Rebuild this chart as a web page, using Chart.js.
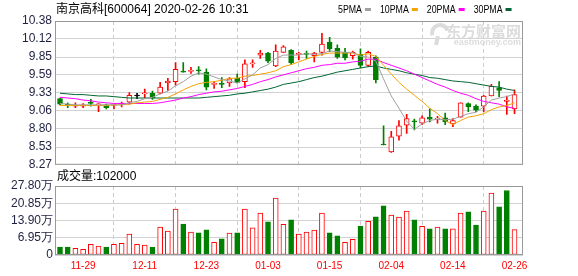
<!DOCTYPE html>
<html>
<head>
<meta charset="utf-8">
<script src="https://cdn.jsdelivr.net/npm/chart.js@4.4.0/dist/chart.umd.min.js"></script>
<style>
html, body { margin: 0; padding: 0; background: #fff; }
#wrap { position: relative; width: 578px; height: 276px; overflow: hidden; }
#price { position: absolute; left: 0; top: 0; }
#vol { position: absolute; left: 0; top: 165px; }
</style>
</head>
<body>
<div id="wrap">
  <canvas id="price" width="578" height="175" style="width:578px;height:175px"></canvas>
  <canvas id="vol" width="578" height="111" style="width:578px;height:111px"></canvas>
</div>
<script>
// trading days
const dates = ['11-26','11-27','11-28','11-29','12-02','12-03','12-04','12-05','12-06','12-09',
  '12-10','12-11','12-12','12-13','12-16','12-17','12-18','12-19','12-20','12-23',
  '12-24','12-25','12-26','12-27','12-30','12-31','01-02','01-03','01-06','01-07',
  '01-08','01-09','01-10','01-13','01-14','01-15','01-16','01-17','01-20','01-21',
  '01-22','01-23','02-03','02-04','02-05','02-06','02-07','02-10','02-11','02-12',
  '02-13','02-14','02-17','02-18','02-19','02-20','02-21','02-24','02-25','02-26'];
const shownDates = ['11-29','12-11','12-23','01-03','01-15','02-04','02-14','02-26'];

const openP = [9.24,9.16,9.13,9.13,9.19,9.15,9.15,9.14,9.16,9.19,
  9.28,9.31,9.32,9.32,9.47,9.49,9.64,9.64,9.66,9.63,
  9.45,9.46,9.47,9.54,9.49,9.75,9.88,9.91,9.72,9.92,
  9.95,9.89,9.90,9.87,9.92,10.07,9.98,9.92,9.87,9.89,
  9.73,9.85,8.57,8.46,8.69,8.85,8.91,8.88,8.97,8.94,
  8.96,8.87,8.97,9.17,9.13,9.13,9.28,9.40,9.20,9.09];
const highP = [9.25,9.18,9.18,9.17,9.23,9.17,9.16,9.16,9.19,9.33,
  9.32,9.38,9.35,9.48,9.54,9.77,9.77,9.70,9.71,9.68,
  9.49,9.55,9.55,9.60,9.81,9.81,9.95,9.92,10.03,10.02,
  9.96,9.92,9.94,9.92,10.20,10.14,10.03,9.98,9.94,9.97,
  9.94,9.87,8.84,8.76,8.92,9.01,8.94,8.99,9.09,8.98,
  9.03,8.95,9.18,9.18,9.15,9.29,9.45,9.49,9.28,9.37];
const lowP = [9.15,9.11,9.11,9.11,9.13,9.05,9.09,9.09,9.12,9.16,
  9.24,9.25,9.23,9.31,9.36,9.44,9.63,9.61,9.60,9.37,
  9.39,9.40,9.42,9.47,9.40,9.70,9.83,9.77,9.71,9.92,
  9.74,9.81,9.83,9.78,9.88,9.93,9.83,9.81,9.82,9.69,
  9.71,9.47,8.56,8.45,8.63,8.73,8.78,8.86,8.90,8.88,
  8.86,8.83,8.97,9.05,9.05,9.05,9.28,9.27,9.01,9.02];
const closeP = [9.16,9.14,9.14,9.15,9.17,9.16,9.11,9.15,9.17,9.29,
  9.28,9.32,9.25,9.41,9.50,9.67,9.63,9.65,9.65,9.41,
  9.46,9.45,9.53,9.48,9.75,9.76,9.91,9.79,9.94,10.00,
  9.77,9.90,9.89,9.91,10.04,9.97,9.85,9.84,9.92,9.73,
  9.92,9.52,8.56,8.68,8.84,8.95,8.90,8.96,8.94,8.95,
  8.90,8.92,9.18,9.12,9.07,9.28,9.42,9.36,9.22,9.30];

const ma5 = [9.17,9.16,9.15,9.15,9.15,9.15,9.15,9.15,9.15,9.18,
  9.20,9.24,9.26,9.31,9.35,9.43,9.49,9.57,9.62,9.60,
  9.56,9.52,9.50,9.47,9.53,9.59,9.69,9.74,9.83,9.88,
  9.88,9.88,9.90,9.89,9.90,9.94,9.93,9.92,9.92,9.86,
  9.85,9.79,9.53,9.28,9.10,8.91,8.79,8.87,8.92,8.94,
  8.93,8.94,8.98,9.02,9.04,9.12,9.22,9.25,9.27,9.31];
const ma10 = [9.14,9.14,9.14,9.14,9.14,9.14,9.14,9.15,9.15,9.16,
  9.18,9.19,9.20,9.23,9.26,9.31,9.37,9.42,9.46,9.48,
  9.49,9.51,9.54,9.54,9.57,9.58,9.60,9.62,9.65,9.71,
  9.74,9.78,9.82,9.86,9.89,9.91,9.91,9.91,9.91,9.88,
  9.90,9.86,9.73,9.60,9.48,9.38,9.29,9.20,9.10,9.02,
  8.92,8.86,8.92,8.97,8.99,9.02,9.08,9.12,9.14,9.18];
const ma20 = [9.26,9.25,9.24,9.22,9.21,9.19,9.18,9.17,9.17,9.17,
  9.17,9.17,9.17,9.18,9.20,9.22,9.25,9.27,9.30,9.32,
  9.34,9.35,9.37,9.39,9.42,9.45,9.49,9.52,9.56,9.59,
  9.62,9.65,9.68,9.70,9.73,9.74,9.76,9.76,9.78,9.79,
  9.82,9.82,9.77,9.73,9.69,9.65,9.60,9.55,9.50,9.45,
  9.41,9.36,9.32,9.29,9.24,9.20,9.18,9.16,9.12,9.10];
const ma30 = [9.32,9.31,9.30,9.30,9.29,9.28,9.28,9.27,9.26,9.25,
  9.25,9.25,9.25,9.25,9.25,9.25,9.25,9.25,9.25,9.26,
  9.27,9.28,9.29,9.31,9.32,9.34,9.36,9.38,9.41,9.45,
  9.47,9.49,9.52,9.55,9.57,9.60,9.63,9.65,9.67,9.69,
  9.71,9.72,9.69,9.67,9.65,9.62,9.60,9.58,9.55,9.54,
  9.52,9.50,9.49,9.48,9.46,9.44,9.42,9.41,9.38,9.36];

// volume in 万 shares, 1 = up day (red)
const vol = [3.24,3.24,2.7,2.3,4.3,3.6,3.24,4.3,4.7,8.4,
  4.3,4.0,3.24,11.2,9.6,18.5,12.5,9.2,8.9,10.1,
  5.1,6.5,8.8,8.9,18.5,10.9,16.9,13.4,22.9,12.4,
  14.2,8.4,9.2,10.0,16.9,8.9,7.7,5.1,6.3,11.7,
  13.6,15.4,19.8,16.1,15.3,17.7,14.2,11.6,10.5,11.2,
  10.5,10.5,16.9,17.4,12.1,17.7,24.9,19.4,26.0,10.2];
const volUp = [0,0,1,1,1,1,0,1,1,1, 1,1,0,1,1,1,0,1,0,0,
  1,0,1,0,1,1,1,0,1,1, 0,1,1,1,1,0,0,1,1,0,
  1,0,0,1,1,1,0,1,0,1, 0,1,1,0,0,1,1,0,0,1];

const priceTicks = [8.27, 8.53, 8.80, 9.06, 9.33, 9.59, 9.85, 10.12, 10.38];
const volTicks = [0, 6.95, 13.90, 20.85, 27.80];
const lastVol = '102000';

const RED = '#ff0000', GREEN = '#008000', BLACK = '#000000';
const maColors = ['#a0a0a0', '#f5a300', '#ff00ff', '#006633'];
const axisFont = { family: '"Liberation Sans", Arial, sans-serif', size: 12 };
const labelColor = '#1f2140';

const pts = arr => arr.map((v, i) => ({ x: i + 1, y: v }));
const tickIdx = shownDates.map(d => dates.indexOf(d) + 1);

const candleColor = closeP.map((c, i) => c > openP[i] ? RED : (c < openP[i] ? GREEN : BLACK));
const bodyFill = closeP.map((c, i) => c > openP[i] ? '#ffffff' : candleColor[i]);

function xScale(showLabels, h) {
  return {
    type: 'linear', min: 0.35, max: 61.1, offset: false,
    afterBuildTicks: s => { s.ticks = tickIdx.map(v => ({ value: v })); },
    afterFit: s => { s.height = h; },
    grid: { color: '#cccccc', drawTicks: false },
    border: { display: false, dash: [4, 3] },
    ticks: {
      display: showLabels, autoSkip: false, maxRotation: 0, padding: 5,
      color: RED, font: { family: '"Liberation Sans", Arial, sans-serif', size: 10 },
      callback: v => dates[v - 1]
    }
  };
}

function frame(chart) {
  const a = chart.chartArea, ctx = chart.ctx;
  ctx.save();
  ctx.strokeStyle = '#999999';
  ctx.lineWidth = 1;
  ctx.strokeRect(a.left + 0.5, a.top + 0.5, a.right - a.left - 1, a.bottom - a.top - 1);
  ctx.restore();
}

const priceDecor = {
  id: 'priceDecor',
  beforeDatasetsDraw(chart) {
    const ctx = chart.ctx, r = chart.chartArea.right;
    ctx.save();
    ctx.fillStyle = '#dcdcdc';
    ctx.textAlign = 'right';
    ctx.textBaseline = 'middle';
    ctx.font = 'bold 15px "Noto Sans CJK SC", sans-serif';
    ctx.fillText('东方财富网', r - 2, 31);
    ctx.font = 'bold 9px "Liberation Sans", Arial, sans-serif';
    ctx.fillText('eastmoney.com', r - 2, 43);
    ctx.strokeStyle = '#dcdcdc';
    ctx.lineWidth = 4;
    ctx.beginPath();
    ctx.arc(440, 33, 8, Math.PI * 0.9, Math.PI * 1.9);
    ctx.stroke();
    ctx.beginPath();
    ctx.moveTo(438, 36); ctx.lineTo(436, 45);
    ctx.stroke();
    ctx.restore();
  },
  afterDraw(chart) {
    const ctx = chart.ctx;
    frame(chart);
    ctx.save();
    ctx.fillStyle = '#000';
    ctx.textBaseline = 'middle';
    ctx.font = '12px "Liberation Sans", "Noto Sans CJK SC", sans-serif';
    ctx.fillText('南京高科[600064] 2020-02-26 10:31', 56, 10);
    // legend
    const names = ['5PMA', '10PMA', '20PMA', '30PMA'];
    let x = 338;
    ctx.font = '10px "Liberation Sans", Arial, sans-serif';
    names.forEach((n, i) => {
      const w = ctx.measureText(n).width * 0.88;
      ctx.save();
      ctx.translate(x, 10);
      ctx.scale(0.88, 1);
      ctx.fillStyle = '#000';
      ctx.fillText(n, 0, 0);
      ctx.restore();
      x += w + 3;
      ctx.fillStyle = maColors[i];
      ctx.fillRect(x, 8, 6, 3);
      x += 6 + 9;
    });
    ctx.restore();
  }
};

const volDecor = {
  id: 'volDecor',
  afterDraw(chart) {
    const ctx = chart.ctx;
    frame(chart);
    ctx.save();
    ctx.fillStyle = '#000';
    ctx.textBaseline = 'middle';
    ctx.font = '12px "Liberation Sans", "Noto Sans CJK SC", sans-serif';
    ctx.fillText('成交量:' + lastVol, 57, 12);
    ctx.restore();
  }
};

const lineDs = (label, arr, color) => ({
  type: 'line', label, data: pts(arr), borderColor: color, borderWidth: 1,
  pointRadius: 0, tension: 0, fill: false, order: 0
});

new Chart(document.getElementById('price'), {
  type: 'bar',
  data: {
    datasets: [
      lineDs('MA5', ma5, maColors[0]),
      lineDs('MA10', ma10, maColors[1]),
      lineDs('MA20', ma20, maColors[2]),
      lineDs('MA30', ma30, maColors[3]),
      {
        label: 'body', order: 1, grouped: false,
        data: openP.map((o, i) => ({ x: i + 1, y: [o, closeP[i]] })),
        backgroundColor: bodyFill, borderColor: candleColor,
        borderWidth: 1, borderSkipped: false, barThickness: 5, minBarLength: 1
      },
      {
        label: 'wick', order: 2, grouped: false,
        data: lowP.map((l, i) => ({ x: i + 1, y: [l, highP[i]] })),
        backgroundColor: candleColor, borderWidth: 0, barThickness: 1
      }
    ]
  },
  options: {
    responsive: false, animation: false, events: [],
    layout: { padding: { top: 21, right: 55, left: 0, bottom: 0 } },
    plugins: { legend: { display: false }, tooltip: { enabled: false } },
    scales: {
      x: xScale(false, 10),
      y: {
        min: 8.27, max: 10.38,
        afterBuildTicks: s => { s.ticks = priceTicks.map(v => ({ value: v })); },
        afterFit: s => { s.width = 55; },
        grid: { color: '#d2d2d2', drawTicks: false },
        border: { display: false },
        ticks: { autoSkip: false, padding: 3, color: labelColor, font: axisFont, callback: v => v.toFixed(2) }
      }
    }
  },
  plugins: [priceDecor]
});

new Chart(document.getElementById('vol'), {
  type: 'bar',
  data: {
    datasets: [{
      label: 'vol', grouped: false,
      data: pts(vol),
      backgroundColor: volUp.map(u => u ? '#ffffff' : GREEN),
      borderColor: volUp.map(u => u ? RED : GREEN),
      borderWidth: 1, borderSkipped: false, barThickness: 5
    }]
  },
  options: {
    responsive: false, animation: false, events: [],
    layout: { padding: { top: 21, right: 55, left: 0, bottom: 0 } },
    plugins: { legend: { display: false }, tooltip: { enabled: false } },
    scales: {
      x: xScale(true, 21),
      y: {
        min: 0, max: 27.8,
        afterBuildTicks: s => { s.ticks = volTicks.map(v => ({ value: v })); },
        afterFit: s => { s.width = 55; },
        grid: { color: '#d2d2d2', drawTicks: false },
        border: { display: false },
        ticks: { autoSkip: false, padding: 2, color: labelColor, font: axisFont, callback: v => v === 0 ? '0' : v.toFixed(2) + '万' }
      }
    }
  },
  plugins: [volDecor]
});
</script>
</body>
</html>
